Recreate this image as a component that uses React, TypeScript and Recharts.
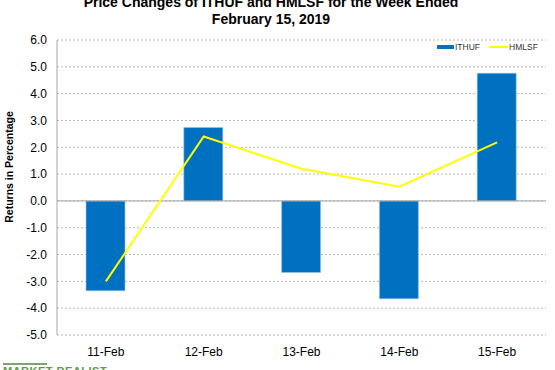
import React from "react";
import {
  ComposedChart,
  Bar,
  Line,
  XAxis,
  YAxis,
  CartesianGrid,
  ReferenceLine,
} from "recharts";

const days = ["11-Feb", "12-Feb", "13-Feb", "14-Feb", "15-Feb"];
const ithuf = [-3.35, 2.74, -2.67, -3.65, 4.76];
const hmlsf = [-3.0, 2.4, 1.2, 0.53, 2.18];
const yTicks = [-5, -4, -3, -2, -1, 0, 1, 2, 3, 4, 5, 6];

const data = days.map((day, i) => ({ day, ITHUF: ithuf[i], HMLSF: hmlsf[i] }));

const font = "Arial, 'Liberation Sans', sans-serif";

const LegendBox = () => (
  <div
    style={{
      position: "absolute",
      left: 437,
      top: 42,
      display: "flex",
      alignItems: "center",
      fontFamily: font,
      fontSize: 8.5,
      color: "#333",
    }}
  >
    <span style={{ display: "inline-block", width: 17, height: 4, background: "#0070C0", marginRight: 1 }} />
    <span style={{ marginRight: 9 }}>ITHUF</span>
    <span style={{ display: "inline-block", width: 19, height: 2, background: "#FFFF00", marginRight: 1 }} />
    <span>HMLSF</span>
  </div>
);

const App: React.FC = () => {
  return (
    <div
      style={{
        position: "absolute",
        left: 0,
        top: 0,
        width: 555,
        height: 370,
        overflow: "hidden",
        background: "#fff",
        fontFamily: font,
      }}
    >
      <div
        style={{
          position: "absolute",
          left: 0,
          width: 542,
          top: -6,
          textAlign: "center",
          fontWeight: "bold",
          fontSize: 14,
          lineHeight: "17px",
          color: "#000",
        }}
      >
        Price Changes of ITHUF and HMLSF for the Week Ended
        <br />
        February 15, 2019
      </div>
      <div
        style={{
          position: "absolute",
          left: 9,
          top: 167,
          transform: "translate(-50%, -50%) rotate(-90deg)",
          fontSize: 10.5,
          fontWeight: "bold",
          whiteSpace: "nowrap",
          color: "#000",
        }}
      >
        Returns in Percentage
      </div>
      <div style={{ position: "absolute", top: 0, left: 0 }}>
        <ComposedChart
          width={555}
          height={370}
          data={data}
          margin={{ top: 40, right: 9, left: 0, bottom: 10 }}
        >
          <CartesianGrid vertical={false} stroke="#b5b5b5" strokeDasharray="2 2" />
          <XAxis
            dataKey="day"
            axisLine={false}
            tickLine={false}
            tickSize={0}
            tickMargin={12}
            height={25}
            tick={{ fontSize: 12, fill: "#000", fontFamily: font }}
          />
          <YAxis
            width={57}
            domain={[-5, 6]}
            ticks={yTicks}
            interval={0}
            tickFormatter={(v: number) => v.toFixed(1)}
            axisLine={{ stroke: "#a6a6a6" }}
            tickLine={false}
            tickSize={0}
            tickMargin={10}
            tick={{ fontSize: 12, fill: "#000", fontFamily: font }}
          />
          <Bar
            dataKey="ITHUF"
            fill="#0070C0"
            stroke="#9dc3e6"
            strokeWidth={0.6}
            barSize={39}
            isAnimationActive={false}
          />
          <ReferenceLine y={0} stroke="#a6a6a6" strokeWidth={1} />
          <Line
            dataKey="HMLSF"
            type="linear"
            stroke="#FFFF00"
            strokeWidth={2}
            dot={false}
            activeDot={false}
            isAnimationActive={false}
          />
        </ComposedChart>
      </div>
      <LegendBox />
      <div style={{ position: "absolute", left: 3, top: 363, width: 44, height: 2, background: "#7aa86a" }} />
      <div
        style={{
          position: "absolute",
          left: 3,
          top: 365,
          fontSize: 11,
          fontWeight: "bold",
          color: "#5f9a4f",
          letterSpacing: 0.5,
          whiteSpace: "nowrap",
        }}
      >
        MARKET REALIST
      </div>
    </div>
  );
};

export default App;
